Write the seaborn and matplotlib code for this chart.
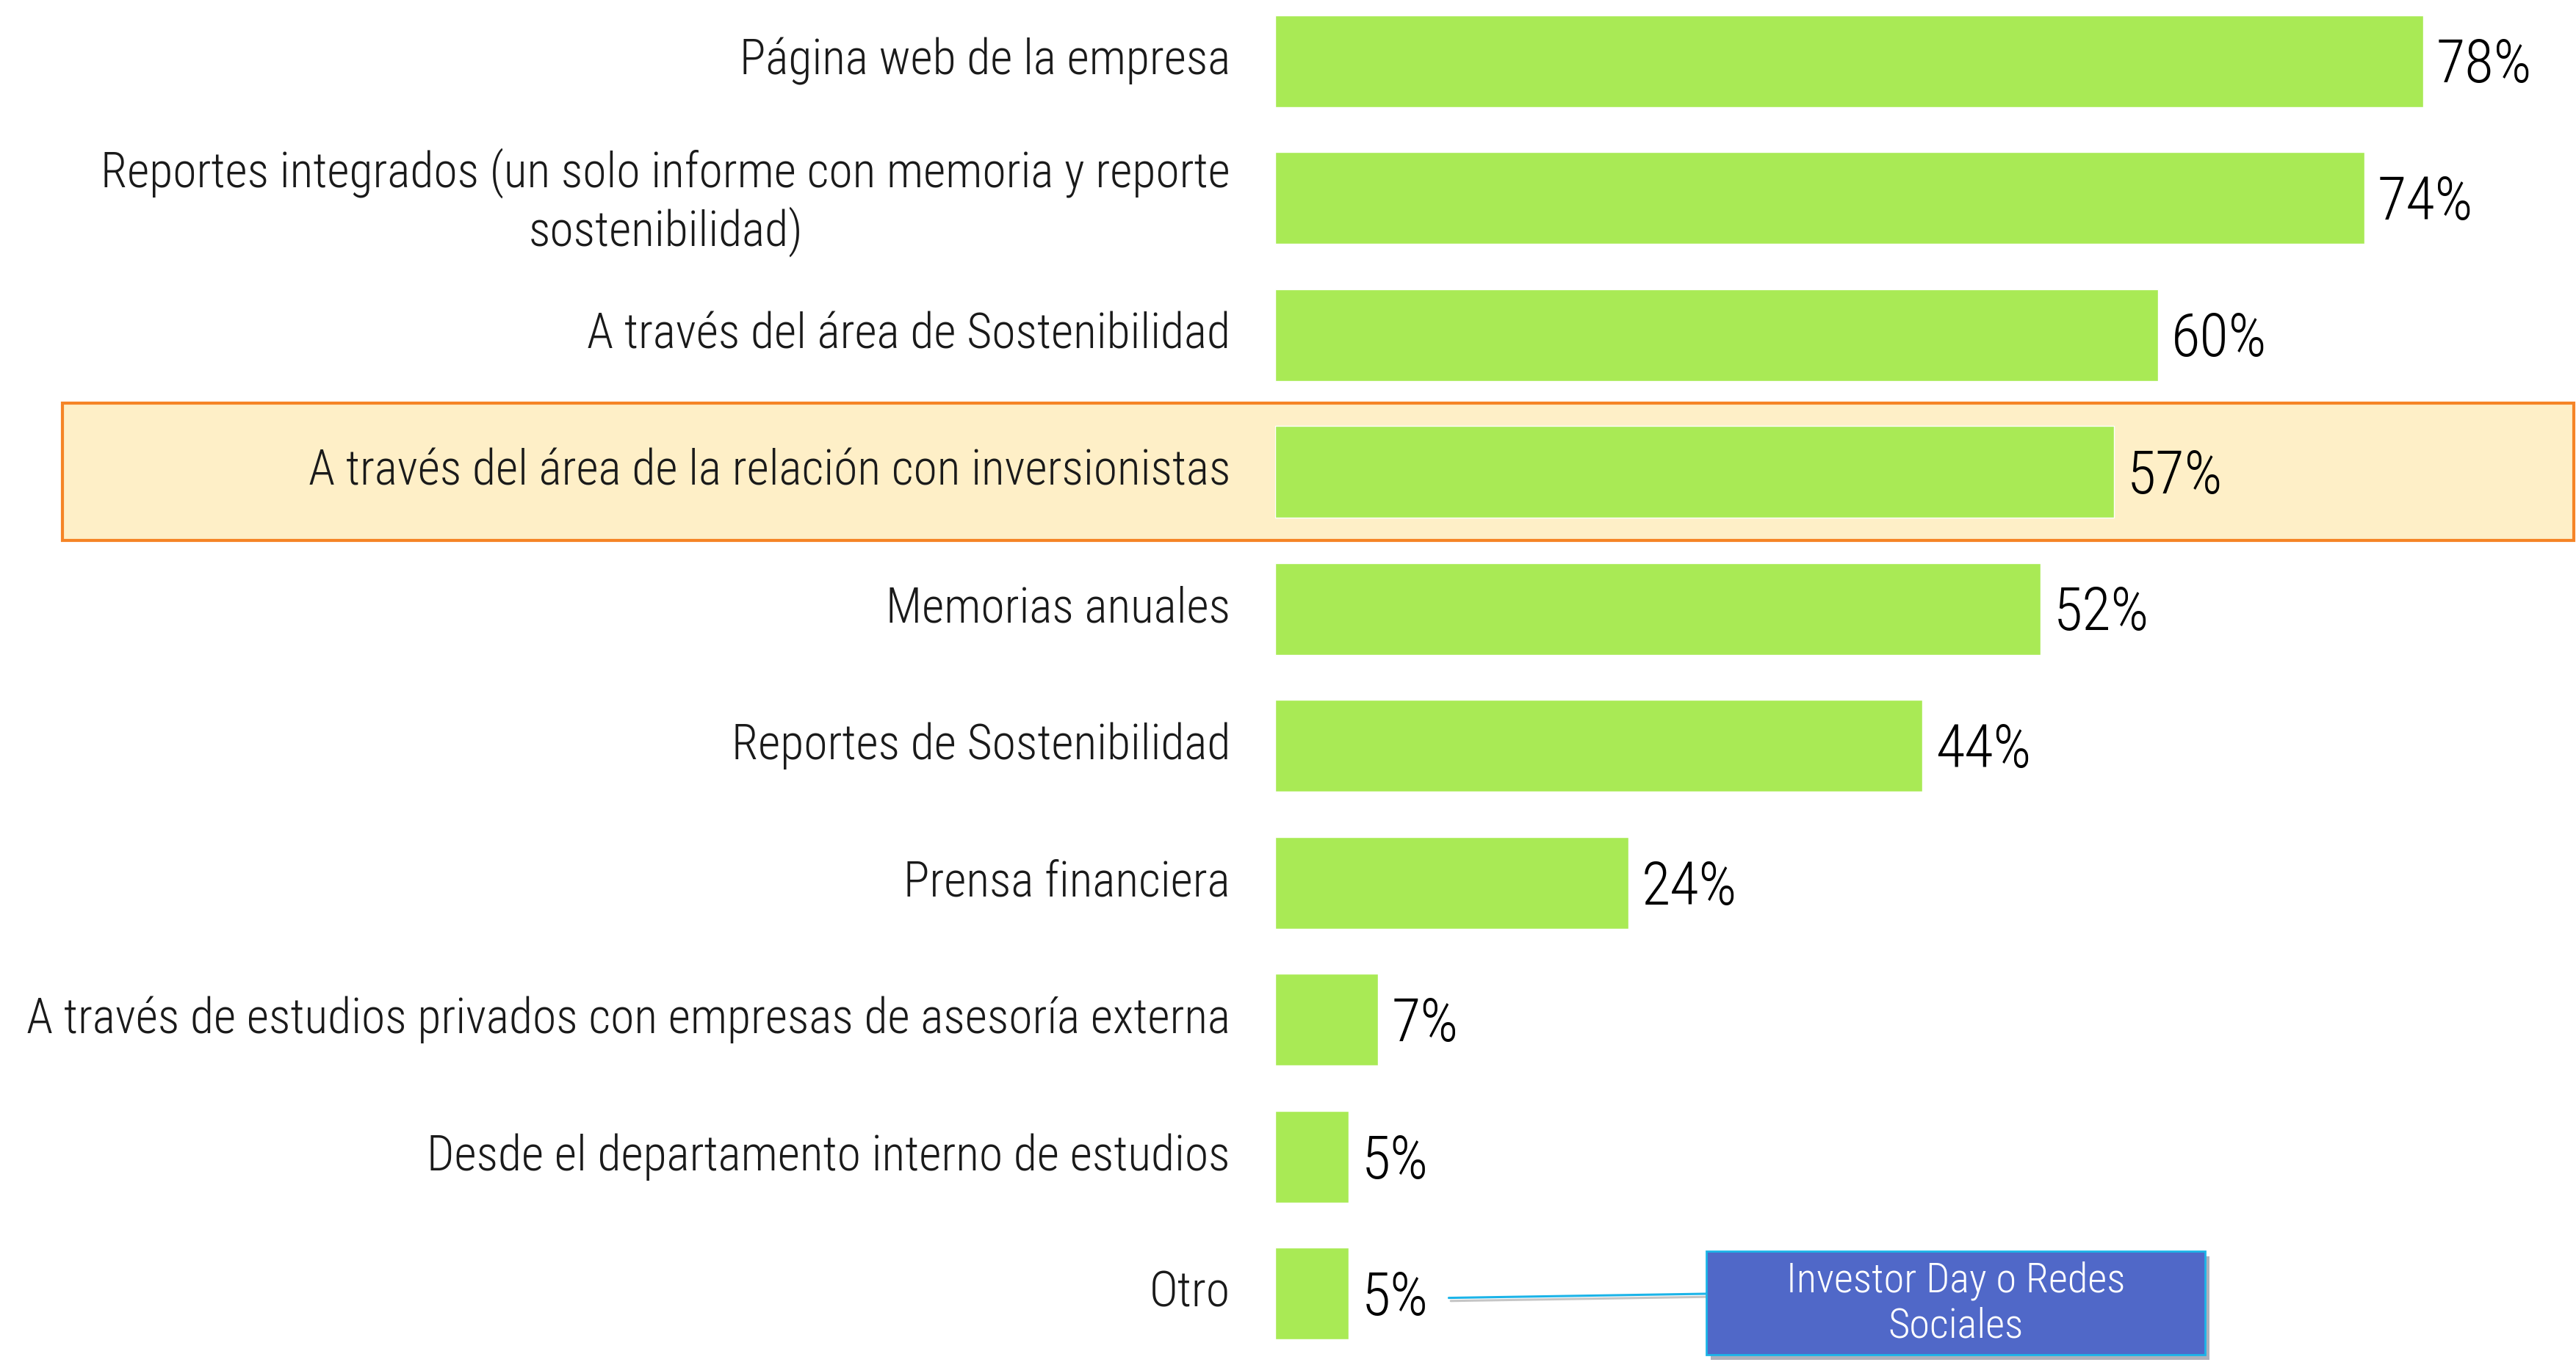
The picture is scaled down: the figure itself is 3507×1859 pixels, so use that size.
import matplotlib
matplotlib.use("Agg")
import matplotlib.pyplot as plt
import matplotlib.patheffects as pe
from matplotlib import font_manager
from matplotlib.patches import Rectangle
from matplotlib.transforms import blended_transform_factory, offset_copy
import seaborn as sns

categories = [
    "Página web de la empresa",
    "Reportes integrados (un solo informe con memoria y reporte\nsostenibilidad)",
    "A través del área de Sostenibilidad",
    "A través del área de la relación con inversionistas",
    "Memorias anuales",
    "Reportes de Sostenibilidad",
    "Prensa financiera",
    "A través de estudios privados con empresas de asesoría externa",
    "Desde el departamento interno de estudios",
    "Otro",
]
values = [78, 74, 60, 57, 52, 44, 24, 7, 5, 5]
value_labels = [f"{v}%" for v in values]
callout_text = "Investor Day o Redes\nSociales"

# pick a narrow-ish font that is installed
fonts = font_manager.fontManager.ttflist
names = {f.name for f in fonts}
font = "DejaVu Sans"
for cand in ["Liberation Sans Narrow", "Roboto Condensed", "Open Sans Condensed", "Roboto", "Lato"]:
    if cand in names:
        font = cand
        break
light = "light" if any(f.name == font and f.weight in (300, "light") for f in fonts) else "normal"

sns.set_theme(style="white")
plt.rcParams["font.family"] = [font, "DejaVu Sans"]

W, H = 3507, 1859
fig = plt.figure(figsize=(W / 100, H / 100), dpi=100)
ax = fig.add_axes([1736 / W, 0, 1 - 1736 / W, 1])
renderer = fig.canvas.get_renderer()


def fit_size(text, target_px, weight="normal"):
    t = fig.text(0, 0, text, fontsize=40, fontweight=weight)
    w = t.get_window_extent(renderer).width
    t.remove()
    return 40 * target_px / w


cat_size = fit_size(categories[7], 1639, light)
val_size = fit_size("78%", 130, light)
call_size = fit_size("Investor Day o Redes", 461, light)

sns.barplot(x=values, y=categories, orient="h", color="#A9EA55",
            width=0.67, saturation=1, ax=ax, zorder=3)
ax.set_xlim(0, 88.4)
ax.set_ylim(9.52, -0.445)

vlabels = ax.bar_label(ax.containers[0], labels=value_labels, padding=13,
                       fontsize=val_size, color="black", fontweight=light)
for t in vlabels:
    t.xyann = (t.xyann[0], t.xyann[1] - 5)

ax.tick_params(axis="y", length=0, pad=44, labelsize=cat_size)
ax.set_xticks([])
ax.set_xlabel("")
ax.set_ylabel("")
sns.despine(ax=ax, left=True, bottom=True)
for lab in ax.get_yticklabels():
    lab.set_multialignment("center")
    lab.set_color("#1a1a1a")
    lab.set_fontweight(light)
    lab.set_transform(offset_copy(lab.get_transform(), fig=fig, y=7, units="dots"))

# highlighted row
trans = blended_transform_factory(fig.transFigure, ax.transData)
hl = Rectangle((85 / W, 2.5), 1 - 85 / W - 0.0008, 1.0, transform=trans,
               facecolor="#FEEFC7", edgecolor="#F58426", linewidth=3,
               clip_on=False, zorder=0)
ax.add_patch(hl)

# callout
ax.plot([11.8, 29.3], [9.03, 9.0], color="#1CB4E8", lw=2.2, zorder=2,
        path_effects=[pe.SimpleLineShadow(offset=(2, -3), alpha=0.25), pe.Normal()])
box = Rectangle((29.3, 8.69), 33.9, 0.755, facecolor="#5068C8",
                edgecolor="#1CB4E8", linewidth=2, zorder=4,
                path_effects=[pe.SimplePatchShadow(offset=(4, -5), alpha=0.35), pe.Normal()])
ax.add_patch(box)
ax.text(46.25, 9.07, callout_text, ha="center", va="center", color="white",
        fontsize=call_size, fontweight=light, linespacing=1.2, zorder=5)

fig.savefig("out.png", dpi=100, facecolor="white")
